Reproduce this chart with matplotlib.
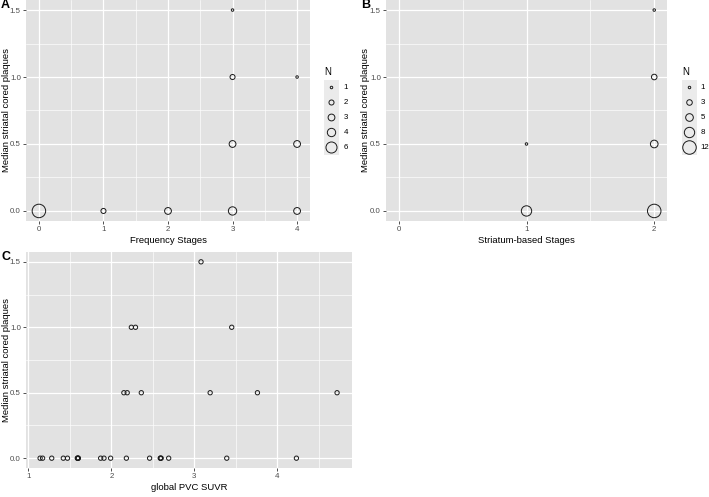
import matplotlib
matplotlib.use("Agg")
from matplotlib import pyplot as plt
import numpy as np

# panel A: frequency stages
freq_stage = [0, 1, 2, 3, 3, 3, 3, 4, 4, 4]
freq_median = [0, 0, 0, 0, 0.5, 1.0, 1.5, 0, 0.5, 1.0]
freq_n = [8, 2, 3, 4, 3, 2, 1, 3, 3, 1]
freq_breaks = [1, 2, 3, 4, 6]

# panel B: striatum-based stages
str_stage = [1, 1, 2, 2, 2, 2]
str_median = [0, 0.5, 0, 0.5, 1.0, 1.5]
str_n = [8, 1, 12, 5, 3, 1]
str_breaks = [1, 3, 5, 8, 12]

# panel C: global PVC SUVR
suvr = [1.14, 1.17, 1.28, 1.42, 1.47, 1.59, 1.59, 1.60, 1.60, 1.87, 1.91, 1.99,
        2.18, 2.46, 2.59, 2.59, 2.60, 2.69, 3.39, 4.23,
        2.15, 2.19, 2.36, 3.19, 3.76, 4.72,
        2.24, 2.29, 3.45,
        3.08]
suvr_median = [0] * 20 + [0.5] * 6 + [1.0] * 3 + [1.5]

W, H = 709, 497
PX = 100 / 72.0
panel_bg = "#E2E2E2"
key_bg = "#EBEBEB"
tick_col = "#4D4D4D"

plt.rcParams['font.family'] = ['Liberation Sans', 'DejaVu Sans']

fig = plt.figure(figsize=(W / 100, H / 100), dpi=100)


def px_axes(x0, y0, x1, y1):
    return fig.add_axes([x0 / W, 1 - y1 / H, (x1 - x0) / W, (y1 - y0) / H])


def size_of(n, nmax):
    d = 2.5 + 11.0 * ((np.asarray(n, float) - 1) / (nmax - 1)) ** 0.75
    return (d / PX) ** 2


def style(ax, xmaj, xmin, xlim, xlabel, width_px, label_dx):
    ax.set_facecolor(panel_bg)
    for s in ax.spines.values():
        s.set_visible(False)
    ax.set_xlim(*xlim)
    ax.set_ylim(-0.075, 1.575)
    ax.set_xticks(xmaj)
    ax.set_xticks(xmin, minor=True)
    ax.set_yticks([0, 0.5, 1.0, 1.5])
    ax.set_yticklabels(["0.0", "0.5", "1.0", "1.5"])
    ax.set_yticks([0.25, 0.75, 1.25], minor=True)
    ax.grid(True, which="major", color="white", lw=0.9)
    ax.grid(True, which="minor", color="white", lw=0.45)
    ax.set_axisbelow(True)
    ax.tick_params(which="major", direction="out", length=2.2, width=0.6,
                   color="#333333", labelsize=5.7, labelcolor=tick_col, pad=1.5)
    ax.tick_params(which="minor", length=0)
    ax.set_xlabel(xlabel, fontsize=6.8, labelpad=2)
    ax.set_ylabel("Median striatal cored plaques", fontsize=6.8)
    ax.yaxis.set_label_coords(-label_dx / width_px, 0.5)


def legend_box(x0, y0, x1, y1, breaks, nmax, text_x):
    leg = px_axes(x0, y0, x1, y1)
    leg.set_facecolor(key_bg)
    for s in leg.spines.values():
        s.set_visible(False)
    leg.set_xticks([])
    leg.set_yticks([])
    k = len(breaks)
    leg.set_xlim(0, 1)
    leg.set_ylim(k - 0.5, -0.5)
    leg.scatter([0.5] * k, range(k), s=size_of(breaks, nmax),
                facecolors="none", edgecolors="#1A1A1A", linewidths=0.7, clip_on=False)
    tr = leg.get_yaxis_transform()
    for i, b in enumerate(breaks):
        leg.text(text_x, i, str(b), transform=tr, fontsize=5.7, va="center", ha="left")
    leg.text(0.0, 1.11, "N", transform=leg.transAxes, fontsize=7, va="center", ha="left")


# A
axA = px_axes(26, 0, 310, 221)
style(axA, [0, 1, 2, 3, 4], [0.5, 1.5, 2.5, 3.5], (-0.2, 4.2), "Frequency Stages", 284, 15)
axA.scatter(freq_stage, freq_median, s=size_of(freq_n, 8), facecolors="none",
            edgecolors="#1A1A1A", linewidths=0.7, clip_on=False, zorder=3)
legend_box(324, 80, 339, 155, freq_breaks, 8, 1.3)
fig.text(1 / W, 1 - 5 / H, "A", fontsize=9, fontweight="bold", va="center")

# B
axB = px_axes(386, 0, 667, 221)
style(axB, [0, 1, 2], [0.5, 1.5], (-0.1, 2.1), "Striatum-based Stages", 281, 16)
axB.scatter(str_stage, str_median, s=size_of(str_n, 12), facecolors="none",
            edgecolors="#1A1A1A", linewidths=0.7, clip_on=False, zorder=3)
legend_box(682, 80, 697, 155, str_breaks, 12, 1.25)
fig.text(361 / W, 1 - 5 / H, "B", fontsize=9, fontweight="bold", va="center")

# C
axC = px_axes(26, 252, 352, 468)
style(axC, [1, 2, 3, 4], [1.5, 2.5, 3.5, 4.5], (0.97, 4.9), "global PVC SUVR", 326, 15)
axC.scatter(suvr, suvr_median, s=(4.3 / PX) ** 2, facecolors="none",
            edgecolors="#1A1A1A", linewidths=0.7, zorder=3)
fig.text(1 / W, 1 - 257 / H, "C", fontsize=9, fontweight="bold", va="center")

fig.savefig("out.png", dpi=100, facecolor="white")
